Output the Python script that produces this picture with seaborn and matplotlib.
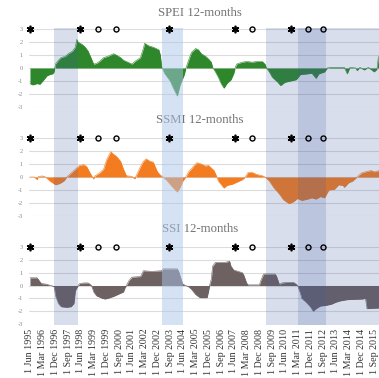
import pandas as pd
import matplotlib
matplotlib.use("Agg")
import matplotlib.pyplot as plt
import seaborn as sns

sns.set_theme(style="white")
plt.rcParams["font.family"] = ["Liberation Serif", "DejaVu Serif"]

# ---- 12-month drought indices (month, value) ----
spei_dates = ["1995-06", "1995-08", "1995-11", "1996-01", "1996-03", "1996-06", "1996-08", "1996-10",
              "1996-11", "1996-12", "1997-02", "1997-04", "1997-07", "1997-09", "1997-12", "1998-02",
              "1998-03", "1998-04", "1998-07", "1998-09", "1998-11", "1999-01", "1999-03", "1999-05",
              "1999-07", "1999-10", "2000-01", "2000-05", "2000-07", "2000-10", "2000-12", "2001-02",
              "2001-06", "2001-08", "2001-12", "2002-02", "2002-03", "2002-06", "2002-09", "2003-01",
              "2003-02", "2003-03", "2003-05", "2003-09", "2003-11", "2004-02", "2004-04", "2004-07",
              "2004-08", "2004-10", "2004-12", "2005-03", "2005-05", "2005-07", "2005-10", "2005-12",
              "2006-02", "2006-03", "2006-05", "2006-07", "2006-09", "2006-11", "2007-01", "2007-04",
              "2007-06", "2007-07", "2007-08", "2007-09", "2007-12", "2008-03", "2008-07", "2008-10",
              "2009-02", "2009-04", "2009-05", "2009-07", "2009-09", "2010-01", "2010-03", "2010-06",
              "2010-10", "2011-02", "2011-05", "2011-10", "2012-01", "2012-04", "2012-06", "2012-10",
              "2012-12", "2013-02", "2013-12", "2014-02", "2014-04", "2014-08", "2014-09", "2014-11",
              "2015-02", "2015-05", "2015-09", "2015-11", "2015-12", "2016-01"]
spei_vals = [-1.2, -1.3, -1.2, -1.25, -1.0, -0.6, -0.5, -0.45,
             -0.3, 0.3, 0.6, 0.8, 0.9, 1.1, 1.3, 1.6,
             2.2, 2.0, 1.8, 1.6, 1.3, 0.8, 0.3, 0.35,
             0.5, 0.8, 0.9, 1.1, 1.0, 0.8, 0.6, 0.5,
             0.3, 0.5, 0.8, 1.5, 1.9, 1.7, 1.6, 1.4,
             1.0, 0.1, -0.4, -1.0, -1.5, -2.15, -1.3, -0.5,
             -0.05, 0.6, 1.2, 1.5, 1.4, 1.1, 0.9, 0.7,
             0.45, 0.05, -0.3, -0.7, -1.2, -1.55, -1.2, -0.9,
             -0.4, 0.05, 0.3, 0.35, 0.45, 0.5, 0.45, 0.5,
             0.5, 0.3, 0.0, -0.3, -0.7, -1.1, -1.35, -1.1,
             -1.0, -0.9, -0.5, -0.45, -0.4, -0.8, -0.45, -0.3,
             0.0, 0.05, 0.05, -0.45, 0.05, 0.0, -0.2, 0.05,
             -0.15, 0.05, -0.3, -0.1, 0.8, 1.0]

ssmi_dates = ["1995-06", "1995-09", "1995-11", "1995-12", "1996-03", "1996-05", "1996-08", "1996-12",
              "1997-03", "1997-06", "1997-08", "1997-10", "1998-02", "1998-05", "1998-08", "1998-10",
              "1998-12", "1999-02", "1999-03", "1999-04", "1999-07", "1999-10", "1999-12", "2000-03",
              "2000-05", "2000-07", "2000-10", "2000-12", "2001-02", "2001-06", "2001-08", "2001-09",
              "2001-12", "2002-02", "2002-04", "2002-07", "2002-09", "2002-12", "2003-02", "2003-04",
              "2003-07", "2003-10", "2004-02", "2004-04", "2004-06", "2004-08", "2004-10", "2005-02",
              "2005-04", "2005-07", "2005-10", "2005-12", "2006-04", "2006-06", "2006-07", "2006-11",
              "2007-01", "2007-05", "2007-08", "2007-12", "2008-02", "2008-04", "2008-07", "2008-10",
              "2009-02", "2009-04", "2009-07", "2009-10", "2010-02", "2010-05", "2010-09", "2010-12",
              "2011-03", "2011-06", "2011-10", "2012-01", "2012-04", "2012-07", "2012-10", "2013-01",
              "2013-05", "2013-08", "2013-11", "2013-12", "2014-03", "2014-06", "2014-09", "2014-12",
              "2015-03", "2015-07", "2015-09", "2016-01"]
ssmi_vals = [0.0, 0.0, -0.2, 0.05, 0.08, 0.0, -0.3, -0.6,
             -0.5, -0.3, 0.0, 0.2, 0.6, 0.9, 0.95, 0.8,
             0.4, 0.0, -0.15, 0.1, 0.3, 0.6, 1.3, 1.95,
             1.75, 1.6, 1.2, 0.6, 0.1, 0.05, -0.15, 0.1,
             0.8, 1.2, 1.4, 1.2, 1.15, 0.4, 0.15, 0.0,
             -0.3, -0.7, -1.15, -0.8, -0.3, 0.0, 0.4, 0.9,
             1.1, 1.0, 0.85, 0.9, 0.5, 0.0, -0.3, -0.85,
             -0.65, -0.55, -0.4, -0.2, 0.0, 0.35, 0.35, 0.2,
             0.1, 0.0, -0.3, -0.8, -1.3, -1.75, -2.05, -1.9,
             -1.65, -1.8, -1.7, -1.6, -1.7, -1.5, -1.6, -1.0,
             -0.95, -0.6, -0.65, -0.8, -0.45, -0.3, 0.0, 0.3,
             0.4, 0.5, 0.4, 0.5]

ssi_dates = ["1995-06", "1995-11", "1995-12", "1996-02", "1996-06", "1996-07", "1996-09", "1996-11",
             "1996-12", "1997-02", "1997-04", "1997-08", "1997-11", "1998-01", "1998-02", "1998-04",
             "1998-05", "1998-08", "1998-11", "1999-01", "1999-02", "1999-03", "1999-05", "1999-09",
             "1999-11", "2000-01", "2000-05", "2000-08", "2000-12", "2001-01", "2001-02", "2001-04",
             "2001-06", "2001-12", "2002-01", "2002-02", "2002-08", "2003-03", "2003-04", "2004-02",
             "2004-03", "2004-05", "2004-06", "2004-08", "2004-10", "2004-12", "2005-03", "2005-06",
             "2005-11", "2005-12", "2006-01", "2006-02", "2006-03", "2006-05", "2006-12", "2007-03",
             "2007-04", "2007-06", "2007-09", "2007-12", "2008-01", "2008-03", "2008-04", "2008-12",
             "2009-01", "2009-03", "2009-11", "2009-12", "2010-02", "2010-04", "2010-08", "2010-12",
             "2011-02", "2011-03", "2011-05", "2011-06", "2011-09", "2011-12", "2012-02", "2012-04",
             "2012-07", "2012-11", "2013-03", "2013-06", "2013-09", "2014-02", "2015-01", "2015-03",
             "2015-04", "2016-01"]
ssi_vals = [0.6, 0.6, 0.45, 0.15, 0.1, 0.05, 0.0, -0.1,
            -0.8, -1.4, -1.65, -1.7, -1.65, -1.4, -0.4, 0.0,
            0.15, 0.2, 0.2, 0.05, -0.2, -0.5, -0.8, -1.0,
            -1.05, -1.0, -0.85, -0.7, -0.5, -0.2, 0.0, 0.4,
            0.65, 0.7, 0.9, 1.15, 1.1, 1.15, 1.3, 1.3,
            1.1, 0.4, 0.1, 0.0, -0.1, -0.3, -0.7, -0.95,
            -0.95, -0.5, 0.1, 0.5, 1.5, 1.8, 1.8, 1.9,
            1.5, 1.2, 1.1, 1.0, 0.8, 0.2, 0.05, 0.05,
            0.4, 0.9, 0.9, 0.75, 0.1, 0.2, 0.25, 0.25,
            0.1, 0.0, -0.6, -1.0, -1.3, -1.65, -2.0, -1.8,
            -1.6, -1.55, -1.45, -1.3, -1.2, -1.1, -1.05, -1.0,
            -1.8, -1.75]

# event markers drawn along the top of each panel
star_dates = ["1995-06", "1998-05", "2003-08", "2007-07", "2010-10"]
circle_dates = ["1999-06", "2000-07", "2008-07", "2011-10", "2012-09"]

# shaded periods (start, end)
band_light = [("1996-11", "1998-04"), ("2009-05", "2016-03")]
band_pale = [("2003-03", "2004-06")]
band_dark = [("2011-03", "2012-11")]

panel_titles = ["SPEI 12-months", "SSMI 12-months", "SSI 12-months"]
panel_colors = ["#2f872b", "#f47c20", "#6e6161"]
tick_start, tick_end = "1995-06-01", "2015-09-01"

series = [(spei_dates, spei_vals), (ssmi_dates, ssmi_vals), (ssi_dates, ssi_vals)]
for d, v in series:
    assert len(d) == len(v)

W, H = 379, 378


def rect(left, top, right, bottom):
    return [left / W, 1 - bottom / H, (right - left) / W, (bottom - top) / H]


fig = plt.figure(figsize=(W / 100, H / 100), dpi=100)
xlim = (pd.Timestamp("1995-05-11"), pd.Timestamp("2015-12-16"))
tick_dates = pd.date_range(tick_start, tick_end, freq="9MS")
tick_labels = [f"1 {t:%b %Y}" for t in tick_dates]

panel_rects = [rect(29, 29, 379, 107), rect(29, 138, 379, 216), rect(29, 247, 379, 324)]
title_y = [13, 120, 229.5]

for i, ((d, v), col) in enumerate(zip(series, panel_colors)):
    ax = fig.add_axes(panel_rects[i])
    x = pd.to_datetime(d)
    ax.fill_between(x, 0, v, color=col, lw=0, zorder=2)
    sns.lineplot(x=x, y=v, ax=ax, color=col, lw=0.4, zorder=2)
    ax.set_xlim(*xlim)
    ax.set_ylim(-3, 3)
    ax.set_yticks(range(-3, 4))
    ax.set_yticklabels([str(k) for k in range(-3, 4)], fontsize=4.6, color="#8a8a8a")
    ax.grid(axis="y", color="#dcdcdc", lw=0.8)
    ax.grid(axis="x", visible=False)
    ax.set_axisbelow(True)
    for s in ax.spines.values():
        s.set_visible(False)
    ax.tick_params(axis="y", length=0, pad=4.5)
    ax.tick_params(axis="x", length=0, pad=3.5)
    ax.set_xticks(tick_dates)
    if i < 2:
        ax.set_xticklabels([])
    else:
        ax.set_xticklabels(tick_labels, rotation=90, fontsize=7.2, color="#333333", va="top")
    ax.set_xlabel("")
    ax.set_ylabel("")
    fig.text(200 / W, 1 - title_y[i] / H, panel_titles[i], ha="center", va="center",
             fontsize=9.2, color="#737373")

# translucent period bands laid over all three panels
band_ax = fig.add_axes(rect(29, 28, 379, 325), zorder=5)
band_ax.set_xlim(*xlim)
band_ax.set_ylim(0, 1)
band_ax.axis("off")
band_ax.patch.set_alpha(0)
for a, b in band_light:
    band_ax.axvspan(pd.Timestamp(a), pd.Timestamp(b), color=(60 / 255, 90 / 255, 160 / 255), alpha=0.2, lw=0)
for a, b in band_pale:
    band_ax.axvspan(pd.Timestamp(a), pd.Timestamp(b), color=(170 / 255, 198 / 255, 235 / 255), alpha=0.5, lw=0)
for a, b in band_dark:
    band_ax.axvspan(pd.Timestamp(a), pd.Timestamp(b), color=(60 / 255, 90 / 255, 160 / 255), alpha=0.18, lw=0)

# event markers sit above the bands
for i in range(3):
    mk = fig.add_axes(panel_rects[i], zorder=6)
    mk.set_xlim(*xlim)
    mk.set_ylim(-3, 3)
    mk.axis("off")
    mk.patch.set_alpha(0)
    mk.plot(pd.to_datetime(star_dates), [3] * len(star_dates), ls="none", marker=(6, 2, 0),
            ms=5.4, mew=1.2, color="black", clip_on=False)
    mk.plot(pd.to_datetime(circle_dates), [3] * len(circle_dates), ls="none", marker="o",
            ms=3.6, mew=1.0, mfc="none", mec="black", clip_on=False)

fig.savefig("out.png", dpi=100)
